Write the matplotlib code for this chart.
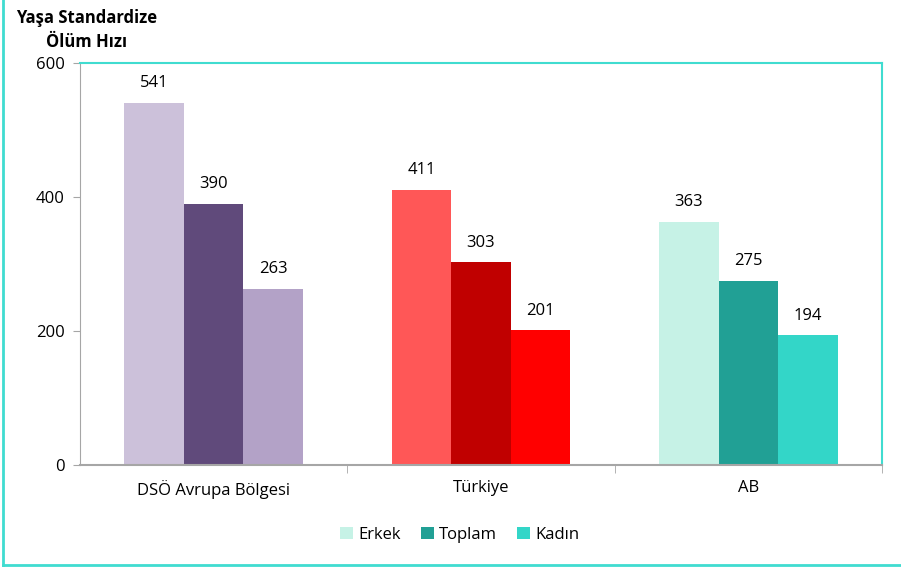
import matplotlib
matplotlib.use('Agg')
import matplotlib.pyplot as plt
import numpy as np
from matplotlib.lines import Line2D
from matplotlib.patches import Patch

plt.rcParams['font.family'] = ['Open Sans', 'DejaVu Sans']

categories = ['DSÖ Avrupa Bölgesi', 'Türkiye', 'AB']
series = ['Erkek', 'Toplam', 'Kadın']
erkek = [541, 411, 363]
toplam = [390, 303, 275]
kadin = [263, 201, 194]

# each group has its own colours
groupColors = [
    ['#CCC1DA', '#604A7B', '#B3A2C7'],
    ['#FF5757', '#C00000', '#FF0000'],
    ['#C6F2E6', '#21A095', '#33D6C8'],
]
legendColors = groupColors[2]
turq = '#40DCD0'
grey = '#A6A6A6'

fig = plt.figure(figsize=(9.01, 5.68), dpi=100)
ax = fig.add_axes([80/901, 1-465/568, (882-80)/901, (465-63)/568])

values = [erkek, toplam, kadin]
w = 0.223
x = np.arange(len(categories))
for i, vals in enumerate(values):
    pos = x + (i - 1) * w
    for j in range(len(categories)):
        ax.bar(pos[j], vals[j], width=w, color=groupColors[j][i], linewidth=0)
        ax.text(pos[j], vals[j] + 17, str(vals[j]), ha='center', va='bottom', fontsize=12)

ax.set_xlim(-0.5, len(categories) - 0.5)
ax.set_ylim(0, 600)
ax.set_yticks([0, 200, 400, 600])
ax.tick_params(axis='y', length=5, color=grey, labelsize=12, pad=6)
ax.set_xticks(x)
ax.set_xticklabels(categories, fontsize=12)
ax.tick_params(axis='x', length=0, pad=11)
ax.set_xticks([0.5, 1.5, 2.5], minor=True)
ax.tick_params(axis='x', which='minor', length=6, color=grey)

ax.spines['left'].set_color(grey)
ax.spines['bottom'].set_color(grey)
ax.spines['bottom'].set_linewidth(1.5)
ax.spines['top'].set_color(turq)
ax.spines['right'].set_color(turq)
ax.spines['top'].set_linewidth(1.5)
ax.spines['right'].set_linewidth(1.5)

fig.text(87/901, 1-9/568, 'Yaşa Standardize\nÖlüm Hızı', ha='center', va='top',
         fontsize=12, fontweight='bold', linespacing=1.45)

handles = [Patch(facecolor=legendColors[i], label=series[i]) for i in range(3)]
fig.legend(handles=handles, loc='center', bbox_to_anchor=(460/901, 1-535/568), ncol=3,
           frameon=False, fontsize=12, handlelength=0.75, handleheight=0.75,
           handletextpad=0.35, columnspacing=1.2)

# outer frame only on left and bottom
fig.lines.append(Line2D([2.5/901, 2.5/901], [3/568, 1], transform=fig.transFigure,
                        color=turq, linewidth=2))
fig.lines.append(Line2D([2.5/901, 1], [3/568, 3/568], transform=fig.transFigure,
                        color=turq, linewidth=2))

fig.savefig('out.png', dpi=100)
